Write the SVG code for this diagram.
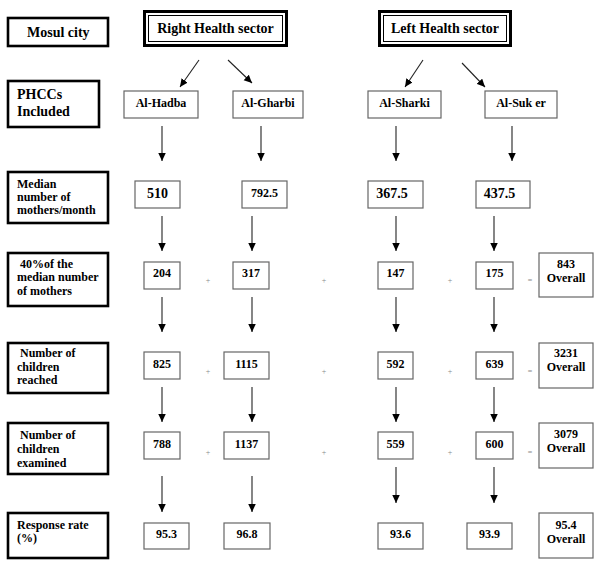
<svg xmlns="http://www.w3.org/2000/svg" width="600" height="567" viewBox="0 0 600 567">
<defs>
<marker id="ah" markerUnits="userSpaceOnUse" markerWidth="9" markerHeight="8" refX="8" refY="3.75" orient="auto">
<path d="M0,0 L8,3.75 L0,7.5 z" fill="#000"/>
</marker>
<style>
text{font-family:"Liberation Serif","Times New Roman",serif;font-weight:bold;fill:#000}
.lab{fill:#fff;stroke:#000;stroke-width:2.6}
.box{fill:#fff;stroke:#666;stroke-width:1.2}
.dbl-o{fill:#fff;stroke:#000;stroke-width:3}
.dbl-i{fill:none;stroke:#000;stroke-width:1}
.t14{font-size:14px}
.t12{font-size:12px}
.c{text-anchor:middle}
.op{font-size:8px;fill:#888;text-anchor:middle;font-weight:normal}
.ar{stroke:#222;stroke-width:1.1;fill:none;marker-end:url(#ah)}
</style>
</defs>
<rect width="600" height="567" fill="#fff"/>

<g id="mosul"><rect class="lab" x="8" y="18" width="100" height="28"/><text class="t14" x="27" y="37">Mosul city</text></g>
<g id="right-sector"><rect class="dbl-o" x="144.5" y="11.5" width="142" height="34"/><rect class="dbl-i" x="148.5" y="15.5" width="134" height="26"/><text class="t14 c" x="215.5" y="33">Right Health sector</text></g>
<g id="left-sector"><rect class="dbl-o" x="379.5" y="11.5" width="131" height="34"/><rect class="dbl-i" x="383.5" y="15.5" width="123" height="26"/><text class="t14 c" x="445" y="33">Left Health sector</text></g>

<g id="lab-phcc"><rect class="lab" x="8" y="81" width="91" height="46"/><text class="t14" x="17" y="99">PHCCs</text><text class="t14" x="17" y="116">Included</text></g>
<g id="lab-median"><rect class="lab" x="8" y="172" width="100" height="51"/><text class="t12" x="17" y="188">Median</text><text class="t12" x="17" y="201">number of</text><text class="t12" x="17" y="214">mothers/month</text></g>
<g id="lab-40"><rect class="lab" x="8" y="253" width="100" height="53"/><text class="t12" x="17" y="268" xml:space="preserve"> 40%of the</text><text class="t12" x="17" y="281">median number</text><text class="t12" x="17" y="295">of mothers</text></g>
<g id="lab-reached"><rect class="lab" x="8" y="343" width="100" height="50"/><text class="t12" x="17" y="357" xml:space="preserve"> Number of</text><text class="t12" x="17" y="371">children</text><text class="t12" x="17" y="384">reached</text></g>
<g id="lab-examined"><rect class="lab" x="8" y="423" width="100" height="51"/><text class="t12" x="17" y="439" xml:space="preserve"> Number of</text><text class="t12" x="17" y="453">children</text><text class="t12" x="17" y="467">examined</text></g>
<g id="lab-response"><rect class="lab" x="8" y="513" width="100" height="45"/><text class="t12" x="17" y="529">Response rate</text><text class="t12" x="17" y="542">(%)</text></g>

<g id="hadba"><rect class="box" x="124" y="91" width="74" height="27"/><text class="t12 c" x="161" y="107">Al-Hadba</text></g>
<g id="gharbi"><rect class="box" x="233" y="91" width="70" height="27"/><text class="t12 c" x="268" y="107">Al-Gharbi</text></g>
<g id="sharki"><rect class="box" x="368" y="91" width="73" height="27"/><text class="t12 c" x="404.5" y="107">Al-Sharki</text></g>
<g id="sukker"><rect class="box" x="485" y="91" width="72" height="27"/><text class="t12 c" x="521" y="107">Al-Suk er</text></g>

<g id="m510"><rect class="box" x="135" y="181" width="45" height="27"/><text class="t14 c" x="157.5" y="198">510</text></g>
<g id="m792"><rect class="box" x="242" y="181" width="45" height="27"/><text class="t12 c" x="264.5" y="197">792.5</text></g>
<g id="m367"><rect class="box" x="368" y="181" width="55" height="27"/><text class="t14 c" x="392" y="198">367.5</text></g>
<g id="m437"><rect class="box" x="476" y="181" width="54" height="27"/><text class="t14 c" x="499.5" y="198">437.5</text></g>

<g id="p204"><rect class="box" x="144" y="262" width="36" height="27"/><text class="t12 c" x="162" y="277">204</text></g>
<g id="p317"><rect class="box" x="233" y="262" width="36" height="27"/><text class="t12 c" x="251" y="277">317</text></g>
<g id="p147"><rect class="box" x="378" y="262" width="35" height="27"/><text class="t12 c" x="395.5" y="277">147</text></g>
<g id="p175"><rect class="box" x="476" y="262" width="37" height="27"/><text class="t12 c" x="494.5" y="277">175</text></g>
<g id="p843"><rect class="box" x="539" y="253" width="54" height="44"/><text class="t12 c" x="566" y="268">843</text><text class="t12 c" x="566" y="282">Overall</text></g>

<g id="r825"><rect class="box" x="144" y="352" width="36" height="27"/><text class="t12 c" x="162" y="368">825</text></g>
<g id="r1115"><rect class="box" x="224" y="352" width="45" height="27"/><text class="t12 c" x="246.5" y="368">1115</text></g>
<g id="r592"><rect class="box" x="378" y="352" width="35" height="27"/><text class="t12 c" x="395.5" y="368">592</text></g>
<g id="r639"><rect class="box" x="476" y="352" width="37" height="27"/><text class="t12 c" x="494.5" y="368">639</text></g>
<g id="r3231"><rect class="box" x="539" y="343" width="54" height="45"/><text class="t12 c" x="566" y="357">3231</text><text class="t12 c" x="566" y="371">Overall</text></g>

<g id="e788"><rect class="box" x="144" y="432" width="36" height="27"/><text class="t12 c" x="162" y="448">788</text></g>
<g id="e1137"><rect class="box" x="224" y="432" width="45" height="27"/><text class="t12 c" x="246.5" y="448">1137</text></g>
<g id="e559"><rect class="box" x="378" y="432" width="35" height="27"/><text class="t12 c" x="395.5" y="448">559</text></g>
<g id="e600"><rect class="box" x="476" y="432" width="37" height="27"/><text class="t12 c" x="494.5" y="448">600</text></g>
<g id="e3079"><rect class="box" x="539" y="423" width="54" height="45"/><text class="t12 c" x="566" y="438">3079</text><text class="t12 c" x="566" y="452">Overall</text></g>

<g id="s953"><rect class="box" x="144" y="523" width="45" height="26"/><text class="t12 c" x="166.5" y="538">95.3</text></g>
<g id="s968"><rect class="box" x="224" y="523" width="46" height="26"/><text class="t12 c" x="247" y="538">96.8</text></g>
<g id="s936"><rect class="box" x="378" y="523" width="45" height="26"/><text class="t12 c" x="400.5" y="538">93.6</text></g>
<g id="s939"><rect class="box" x="467" y="523" width="45" height="26"/><text class="t12 c" x="489.5" y="538">93.9</text></g>
<g id="s954"><rect class="box" x="539" y="513" width="54" height="45"/><text class="t12 c" x="566" y="529">95.4</text><text class="t12 c" x="566" y="543">Overall</text></g>

<g id="operators">
<text class="op" x="208" y="283">+</text><text class="op" x="324" y="283">+</text><text class="op" x="450" y="283">+</text><text class="op" x="530" y="283">=</text>
<text class="op" x="208" y="374">+</text><text class="op" x="324" y="374">+</text><text class="op" x="450" y="374">+</text><text class="op" x="530" y="374">=</text>
<text class="op" x="208" y="455">+</text><text class="op" x="324" y="455">+</text><text class="op" x="450" y="455">+</text><text class="op" x="530" y="455">=</text>
</g>

<g id="connectors">
<line class="ar" x1="199" y1="60" x2="180" y2="87"/>
<line class="ar" x1="228" y1="60" x2="252" y2="83"/>
<line class="ar" x1="423" y1="60" x2="405" y2="87"/>
<line class="ar" x1="462" y1="63" x2="485" y2="87"/>

<line class="ar" x1="162" y1="126" x2="162" y2="161"/>
<line class="ar" x1="261" y1="126" x2="261" y2="161"/>
<line class="ar" x1="396" y1="126" x2="396" y2="161"/>
<line class="ar" x1="512" y1="126" x2="512" y2="161"/>

<line class="ar" x1="162" y1="216" x2="162" y2="251"/>
<line class="ar" x1="252" y1="216" x2="252" y2="251"/>
<line class="ar" x1="396" y1="216" x2="396" y2="251"/>
<line class="ar" x1="494" y1="216" x2="494" y2="251"/>

<line class="ar" x1="162" y1="297" x2="162" y2="332"/>
<line class="ar" x1="252" y1="297" x2="252" y2="332"/>
<line class="ar" x1="396" y1="297" x2="396" y2="332"/>
<line class="ar" x1="494" y1="297" x2="494" y2="332"/>

<line class="ar" x1="162" y1="387" x2="162" y2="422"/>
<line class="ar" x1="252" y1="387" x2="252" y2="422"/>
<line class="ar" x1="396" y1="387" x2="396" y2="422"/>
<line class="ar" x1="494" y1="387" x2="494" y2="422"/>

<line class="ar" x1="162" y1="476" x2="162" y2="512"/>
<line class="ar" x1="252" y1="476" x2="252" y2="512"/>
<line class="ar" x1="396" y1="467" x2="396" y2="503"/>
<line class="ar" x1="494" y1="467" x2="494" y2="503"/>
</g>
</svg>
